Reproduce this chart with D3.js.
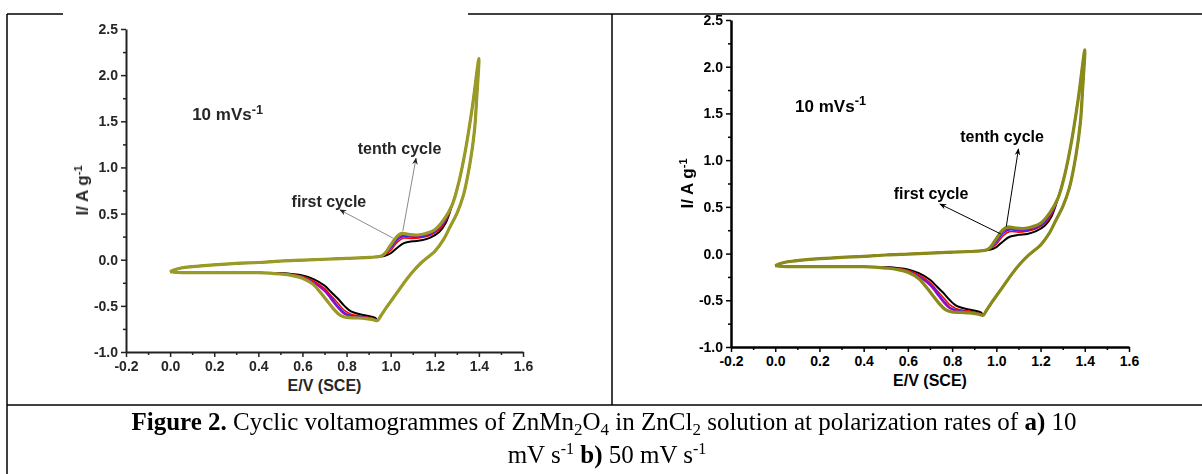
<!DOCTYPE html>
<html>
<head>
<meta charset="utf-8">
<script src="https://cdn.jsdelivr.net/npm/d3@7"></script>
<style>
  html, body { margin: 0; padding: 0; background: #fff; }
  svg { display: block; }
</style>
</head>
<body>
<div id="fig"></div>
<script>
// Axis ticks
const xTicks = [-0.2, 0.0, 0.2, 0.4, 0.6, 0.8, 1.0, 1.2, 1.4, 1.6];
const yTicks = [-1.0, -0.5, 0.0, 0.5, 1.0, 1.5, 2.0, 2.5];

// Common parts of every cycle (E in V, I in A/g)
const anodicStart = [[0.00,-0.13],[0.02,-0.11],[0.05,-0.09],[0.10,-0.075],[0.20,-0.055],[0.30,-0.04],
  [0.40,-0.03],[0.50,-0.015],[0.60,-0.005],[0.70,0.005],[0.80,0.015],[0.90,0.025],[0.95,0.035]];
const anodicEnd = [[1.28,0.60],[1.31,0.85],[1.34,1.20],[1.37,1.65],[1.40,2.18]];
const cathodicStart = [[1.40,2.18],[1.39,1.75],[1.38,1.40],[1.36,1.05],[1.33,0.70],[1.30,0.50],
  [1.27,0.36],[1.24,0.22],[1.20,0.09],[1.17,0.03],[1.14,-0.03],[1.10,-0.13],[1.07,-0.22],
  [1.04,-0.32],[1.01,-0.42],[0.98,-0.52],[0.955,-0.61],[0.94,-0.66]];
const cathodicEnd = [[0.45,-0.145],[0.40,-0.14],[0.30,-0.14],[0.20,-0.14],[0.10,-0.14],
  [0.05,-0.14],[0.02,-0.135],[0.00,-0.13]];

// Cycle-dependent parts around the redox peaks
const cycleNames = ["first", "second", "third", "fourth", "tenth"];
const cycleColors = ["#000000", "#ff0000", "#2a2aff", "#b000b0", null]; // last one set per panel
const anodicPeaks = [
  [[0.97,0.040],[1.00,0.070],[1.03,0.130],[1.06,0.180],[1.10,0.200],[1.14,0.210],[1.18,0.240],[1.22,0.300],[1.25,0.400]],
  [[0.97,0.050],[1.00,0.100],[1.03,0.190],[1.06,0.235],[1.10,0.230],[1.14,0.240],[1.18,0.265],[1.22,0.325],[1.25,0.420]],
  [[0.97,0.055],[1.00,0.125],[1.03,0.215],[1.06,0.255],[1.10,0.245],[1.14,0.250],[1.18,0.275],[1.22,0.340],[1.25,0.435]],
  [[0.97,0.058],[1.00,0.140],[1.03,0.235],[1.06,0.265],[1.10,0.255],[1.14,0.260],[1.18,0.285],[1.22,0.350],[1.25,0.445]],
  [[0.97,0.060],[1.00,0.160],[1.03,0.255],[1.05,0.285],[1.08,0.275],[1.12,0.268],[1.16,0.285],[1.20,0.325],[1.24,0.430]]
];
const cathodicPeaks = [
  [[0.93,-0.630],[0.90,-0.610],[0.86,-0.590],[0.82,-0.560],[0.79,-0.500],[0.76,-0.420],[0.73,-0.350],[0.70,-0.280],[0.65,-0.210],[0.60,-0.170],[0.55,-0.155],[0.50,-0.145]],
  [[0.93,-0.645],[0.90,-0.625],[0.86,-0.610],[0.82,-0.590],[0.79,-0.550],[0.76,-0.470],[0.73,-0.390],[0.70,-0.310],[0.65,-0.230],[0.60,-0.180],[0.55,-0.160],[0.50,-0.148]],
  [[0.93,-0.650],[0.90,-0.630],[0.86,-0.620],[0.82,-0.605],[0.79,-0.575],[0.76,-0.500],[0.73,-0.410],[0.70,-0.330],[0.65,-0.245],[0.60,-0.190],[0.55,-0.165],[0.50,-0.150]],
  [[0.93,-0.655],[0.90,-0.635],[0.86,-0.625],[0.82,-0.615],[0.79,-0.590],[0.76,-0.520],[0.73,-0.430],[0.70,-0.340],[0.65,-0.250],[0.60,-0.195],[0.55,-0.168],[0.50,-0.152]],
  [[0.92,-0.650],[0.88,-0.635],[0.84,-0.630],[0.80,-0.625],[0.77,-0.600],[0.74,-0.530],[0.71,-0.440],[0.68,-0.350],[0.65,-0.270],[0.60,-0.200],[0.55,-0.170],[0.50,-0.155]]
];

const W = 1202, H = 474;
const svg = d3.select("#fig").append("svg")
  .attr("width", W).attr("height", H);

const defs = svg.append("defs");
function marker(id, col) {
  defs.append("marker")
    .attr("id", id)
    .attr("viewBox", "0 0 10 10")
    .attr("refX", 9).attr("refY", 5)
    .attr("markerWidth", 7).attr("markerHeight", 7)
    .attr("markerUnits", "userSpaceOnUse")
    .attr("orient", "auto")
    .append("path").attr("d", "M0,1 L10,5 L0,9 L3,5 Z").attr("fill", col);
}
marker("headL", "#222");
marker("headR", "#000");
defs.append("filter").attr("id", "soft")
  .append("feGaussianBlur").attr("stdDeviation", 0.45);

// Table lines
const table = svg.append("g").attr("stroke", "#000").attr("stroke-width", 1.5);
table.append("line").attr("x1", 7).attr("y1", 14).attr("x2", 63).attr("y2", 14);
table.append("line").attr("x1", 468).attr("y1", 14).attr("x2", W).attr("y2", 14);
table.append("line").attr("x1", 7).attr("y1", 14).attr("x2", 7).attr("y2", H);
table.append("line").attr("x1", 612).attr("y1", 14).attr("x2", 612).attr("y2", 405);
table.append("line").attr("x1", 7).attr("y1", 405).attr("x2", W).attr("y2", 405);

function drawPanel(p) {
  const g = svg.append("g");
  const x = d3.scaleLinear().domain([-0.2, 1.6]).range([p.x0, p.x1]);
  const y = d3.scaleLinear().domain([-1.0, 2.5]).range([p.y0, p.y1]);
  const font = "Liberation Sans, Arial, sans-serif";
  const fmt = d => d.toFixed(1);

  // curves
  const curves = g.append("g").attr("filter", p.soft ? "url(#soft)" : null);
  const line = d3.line().x(d => x(d[0])).y(d => y(d[1])).curve(d3.curveCatmullRom.alpha(0.5));
  cycleNames.forEach((name, i) => {
    const pts = anodicStart.concat(anodicPeaks[i], anodicEnd, cathodicStart.slice(1), cathodicPeaks[i], cathodicEnd);
    curves.append("path")
      .attr("d", line(pts))
      .attr("fill", "none")
      .attr("stroke", cycleColors[i] || p.olive)
      .attr("stroke-width", i === 4 ? p.olW : (i === 0 ? 2 : 1.6))
      .attr("stroke-linejoin", "round");
  });

  // axes
  const axes = g.append("g").attr("filter", p.soft ? "url(#soft)" : null);
  const xAxis = axes.append("g").attr("transform", `translate(0,${p.y0})`)
    .call(d3.axisBottom(x).tickValues(xTicks).tickSize(5).tickPadding(4).tickSizeOuter(0).tickFormat(fmt));
  const xMinor = axes.append("g").attr("transform", `translate(0,${p.y0})`)
    .call(d3.axisBottom(x).tickValues(xTicks.slice(0, -1).map(v => v + 0.1)).tickSize(3).tickFormat(""));
  const yAxis = axes.append("g").attr("transform", `translate(${p.x0},0)`)
    .call(d3.axisLeft(y).tickValues(yTicks).tickSize(5).tickPadding(3).tickSizeOuter(0).tickFormat(fmt));
  const yMinor = axes.append("g").attr("transform", `translate(${p.x0},0)`)
    .call(d3.axisLeft(y).tickValues(yTicks.slice(0, -1).map(v => v + 0.25)).tickSize(3).tickFormat(""));
  [xAxis, xMinor, yAxis, yMinor].forEach(a => {
    a.select(".domain").attr("stroke", p.axisCol).attr("stroke-width", p.axisW);
    a.selectAll(".tick line").attr("stroke", p.axisCol).attr("stroke-width", 1.5);
    a.selectAll("text").attr("fill", p.textCol).style("font-family", font)
      .style("font-weight", "bold").style("font-size", p.tickFs + "px");
  });
  [xMinor, yMinor].forEach(a => a.select(".domain").remove());

  const txt = (sel, fs) => sel.attr("fill", p.textCol)
    .style("font-family", font).style("font-weight", "bold").style("font-size", fs + "px");

  // axis titles
  txt(g.append("text"), p.titleFs)
    .attr("x", (p.x0 + p.x1) / 2).attr("y", p.y0 + p.xTitleDy)
    .attr("text-anchor", "middle")
    .text("E/V (SCE)");
  const yt = txt(g.append("text"), p.yTitleFs)
    .attr("transform", `translate(${p.x0 - p.yTitleDx},${y(0.75)}) rotate(-90)`)
    .attr("text-anchor", "middle");
  yt.append("tspan").text("I/ A g");
  yt.append("tspan").attr("dy", "-0.5em").style("font-size", (p.yTitleFs * 0.65) + "px").text("-1");

  // scan rate label
  const sr = txt(g.append("text"), p.labFs)
    .attr("x", x(p.srPos[0])).attr("y", y(p.srPos[1]));
  sr.append("tspan").text("10 mVs");
  sr.append("tspan").attr("dy", "-0.5em").style("font-size", (p.labFs * 0.75) + "px").text("-1");

  // cycle annotations
  txt(g.append("text"), p.cycFs)
    .attr("x", x(p.tenthPos[0])).attr("y", y(p.tenthPos[1]))
    .attr("text-anchor", "middle")
    .text("tenth cycle");
  txt(g.append("text"), p.cycFs)
    .attr("x", x(p.firstPos[0])).attr("y", y(p.firstPos[1]))
    .attr("text-anchor", "middle")
    .text("first cycle");
  p.arrows.forEach(a => {
    g.append("line")
      .attr("x1", x(a[0][0])).attr("y1", y(a[0][1]))
      .attr("x2", x(a[1][0])).attr("y2", y(a[1][1]))
      .attr("stroke", p.arrowCol).attr("stroke-width", 1)
      .attr("marker-end", `url(#${p.head})`);
  });
}

// a) left panel (soft scan), b) right panel
drawPanel({ x0: 126, x1: 523, y0: 352, y1: 29, axisW: 2, axisCol: "#222", textCol: "#262626",
  tickFs: 14, titleFs: 16, yTitleFs: 17, labFs: 17, cycFs: 16, xTitleDy: 39, yTitleDx: 38, olW: 3.2,
  olive: "#9a9a26", soft: true,
  srPos: [0.10, 1.51], tenthPos: [1.04, 1.15], firstPos: [0.72, 0.57],
  arrows: [[[1.055, 0.31], [1.115, 1.10]], [[1.01, 0.235], [0.77, 0.54]]],
  arrowCol: "#8a8a8a", head: "headL" });
drawPanel({ x0: 731, x1: 1129, y0: 347, y1: 20, axisW: 2.5, axisCol: "#000", textCol: "#000",
  tickFs: 14, titleFs: 16, yTitleFs: 17, labFs: 17, cycFs: 16, xTitleDy: 39, yTitleDx: 38, olW: 3.2,
  olive: "#8a8a1a", soft: false,
  srPos: [0.09, 1.52], tenthPos: [1.026, 1.19], firstPos: [0.705, 0.58],
  arrows: [[[1.045, 0.29], [1.10, 1.12]], [[1.02, 0.21], [0.745, 0.53]]],
  arrowCol: "#000", head: "headR" });

// caption
const cap = svg.append("text")
  .attr("text-anchor", "middle")
  .style("font-family", "Liberation Serif, Times New Roman, serif")
  .style("font-size", "25px").attr("fill", "#000");
const l1 = cap.append("tspan").attr("x", 604).attr("y", 430);
l1.append("tspan").style("font-weight", "bold").text("Figure 2.");
l1.append("tspan").text(" Cyclic voltamogrammes of ZnMn");
l1.append("tspan").attr("dy", 5).style("font-size", "17px").text("2");
l1.append("tspan").attr("dy", -5).text("O");
l1.append("tspan").attr("dy", 5).style("font-size", "17px").text("4");
l1.append("tspan").attr("dy", -5).text(" in ZnCl");
l1.append("tspan").attr("dy", 5).style("font-size", "17px").text("2");
l1.append("tspan").attr("dy", -5).text(" solution at polarization rates of ");
l1.append("tspan").style("font-weight", "bold").text("a)");
l1.append("tspan").text(" 10");
const l2 = cap.append("tspan").attr("x", 607).attr("y", 463);
l2.append("tspan").text("mV s");
l2.append("tspan").attr("dy", -9).style("font-size", "16px").text("-1");
l2.append("tspan").attr("dy", 9).text(" ");
l2.append("tspan").style("font-weight", "bold").text("b)");
l2.append("tspan").text(" 50 mV s");
l2.append("tspan").attr("dy", -9).style("font-size", "16px").text("-1");
</script>
</body>
</html>
